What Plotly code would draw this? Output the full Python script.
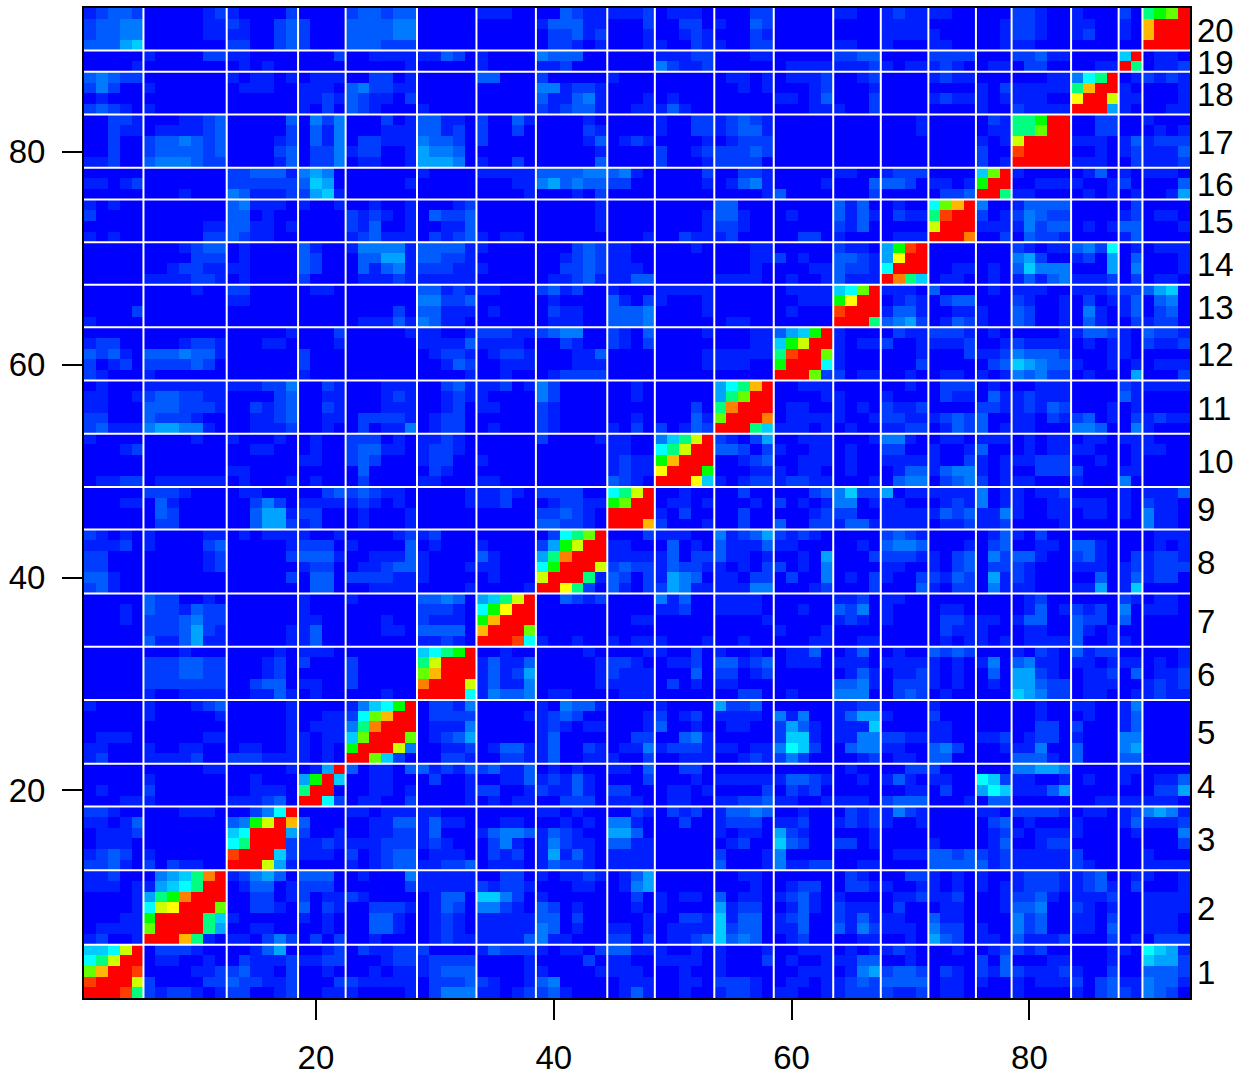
import plotly.graph_objects as go

CLUSTER_SIZES = [5, 7, 6, 4, 6, 5, 5, 6, 4, 5, 5, 5, 4, 4, 4, 3, 5, 4, 2, 4]
CLUSTER_LABELS = [str(i) for i in range(1, 21)]
X_TICKS = [20, 40, 60, 80]
Y_TICKS = [20, 40, 60, 80]
LEVELS = dict(zip("0123456789abcdefg", [0, .03, .06, .09, .12, .16, .20, .25, .375, .5, .6, .7, .75, .82, .875, .94, 1]))

# within-cluster cells, rows ascending
DIAG = [
 ["gggf8", "fgggb", "adggf", "78bgg", "667bg"],
 ["gggd810", "agggg85", "9gggg86", "7bcggga", "589eggg", "15678gg", "04568eg"],
 ["gggb51", "fggg62", "78ggg2", "67ggg5", "349bgd", "00247g"],
 ["gg72", "8gg0", "59g6", "015g"],
 ["gga620", "9gggb4", "6aggga", "48eggg", "27adgg", "14679g"],
 ["gggg7", "egggb", "adggg", "8bggg", "6789g"],
 ["gggf7", "dggga", "9dggg", "79cgg", "568bg"],
 ["ggc820", "bggg81", "79gggb", "58eggg", "259bgg", "0278ag"],
 ["gggd", "gggg", "9agg", "78bg"],
 ["gggc6", "cggg9", "9dggg", "78bgg", "468bg"],
 ["ggg86", "aggge", "8eggg", "58agg", "578dg"],
 ["ggga2", "9ggg7", "8fgga", "69bgg", "3569g"],
 ["ggg8", "fggg", "9cgg", "67ag"],
 ["ge86", "7ggg", "5cgg", "59fg"],
 ["ggge", "bggg", "8fgg", "7adg"],
 ["gg8", "9gg", "6ag"],
 ["ggggg", "fgggg", "bgggg", "88agg", "889gg"],
 ["ggg5", "cggb", "8dgg", "478g"],
 ["g8", "6g"],
 ["gggg", "dggg", "dggg", "89ag"],
]

# cells right of the diagonal: one string per row (ascending), groups are the later clusters
RIGHT_OF_DIAG = [
 # cluster 1
 "2122101 220012 0011 100001 02444 11012 231000 0131 00100 12210 11001 1222 2112 0110 000 10000 1023 21 4320",
 "2000022 322112 0002 211111 02223 21001 340000 0111 00110 22210 01101 1232 3333 0110 100 10111 2023 11 4331",
 "0000112 231102 0010 001011 12333 00001 100001 1110 00100 10000 00111 0145 2332 0210 213 21112 1002 00 3332",
 "0110010 021112 1122 000122 12222 00001 000020 1100 11110 10002 01001 1133 0010 0000 203 00011 0001 00 6552",
 "0222100 001350 0012 021122 20000 13222 101102 3311 10010 10001 00111 0101 1210 0010 012 21200 0001 10 7651",
 # cluster 2
 "110242 0202 001000 01211 11113 411000 2202 01123 63430 01200 0011 0010 532 110 31112 0002 01 0222",
 "001100 0010 003310 01210 11111 430100 1101 01111 62330 11300 3142 1110 422 100 42300 1103 00 1110",
 "100000 1010 003310 01210 11111 330200 0001 00221 61330 12300 2131 1100 311 000 42300 1102 00 1110",
 "002210 3021 002221 01320 44210 320100 0010 10000 51220 01310 2111 0200 011 001 33400 2101 00 1111",
 "002201 2011 210000 01330 66420 100000 0020 10110 30110 12310 1000 0112 112 001 22310 1112 00 1111",
 "013301 2220 000002 11111 21221 000110 0145 00000 00010 01220 0221 1001 101 101 12221 1231 02 0001",
 "124530 3330 010004 11111 00220 101121 0135 00000 00110 00000 0210 0022 101 100 12221 1230 01 1001",
 # cluster 3
 "0000 101233 11223 01110 132210 1111 00000 30001 41122 0011 0000 3333 312 11111 2100 00 1111",
 "1110 201233 01110 02120 151310 1111 00000 20001 40000 0000 0111 3323 212 11111 2000 00 1000",
 "1121 111222 12100 02410 142110 3311 00000 01200 63200 2201 0000 1000 013 00122 0000 00 0002",
 "2001 001122 13000 13443 132100 5530 00000 10110 52100 0001 0000 0000 012 10111 1000 01 0004",
 "3000 001133 13110 00110 001010 4410 00200 12220 11200 1212 1001 0000 023 01000 1000 13 1112",
 "0000 110111 11000 00000 110100 0021 02120 13343 00100 0212 1421 0000 110 22221 0110 12 4541",
 # cluster 4
 "011002 00001 01011 002220 1110 01100 11223 11001 1110 2333 0001 033 00000 0011 11 1110",
 "001101 00001 22001 211310 2200 01101 00002 02120 0000 0011 0200 576 11135 0000 00 0225",
 "001100 02001 00113 121310 0002 00010 11111 13321 0010 1310 1100 762 11001 0100 10 0113",
 "301103 31213 23113 010100 1103 00220 00000 00000 0100 0022 2000 000 44554 0000 11 0000",
 # cluster 5
 "00221 00221 130011 1002 00111 00121 2420 0012 0110 330 00022 3331 30 3351",
 "00112 01331 130021 0114 12221 11011 4762 0344 1100 342 00111 1140 30 4544",
 "01235 00000 130000 0022 00341 00000 2661 1144 2211 110 11200 0122 10 4444",
 "01114 00000 121011 0001 30010 01100 2531 1116 0000 110 00011 0022 20 1334",
 "02222 00001 123200 0001 20120 11110 4140 1355 1000 200 00001 0010 01 1335",
 "02214 00000 104331 0000 10000 52230 0000 1122 0000 100 00000 0010 11 1445",
 # cluster 6
 "14334 011000 0111 00000 00220 01000 4440 0232 0100 000 65422 0110 01 1211",
 "13114 000001 1111 02010 11000 00000 3341 0222 1010 010 55322 0111 00 1212",
 "13125 000001 2111 00030 22012 00000 0131 0112 1010 030 55210 0112 03 0112",
 "13113 000001 2210 01120 33123 01110 1110 1111 1010 140 34110 1101 11 0101",
 "00100 000010 0001 10020 10010 01130 0130 0100 3232 000 10210 3122 00 0001",
 # cluster 7
 "100100 1011 10001 00100 00011 0011 0000 0101 101 01111 3001 10 0000",
 "000000 0000 00000 00000 10001 0000 0000 0211 100 01100 3101 00 0000",
 "000000 0011 00000 00001 00000 1210 1000 0221 110 13300 3220 30 0000",
 "000000 0000 11200 11110 00100 3240 1000 0110 000 01301 2120 40 1110",
 "003212 0000 41300 11110 00000 1120 1100 0000 000 01200 0000 21 0110",
 # cluster 8
 "3102 25411 11144 00012 0002 0003 1022 041 11000 1150 16 0000",
 "3202 15430 11022 02004 0102 1002 2132 051 21000 0030 13 1220",
 "2322 13221 10102 20104 0000 1100 1023 022 21000 1110 12 1222",
 "1111 13022 31101 00105 0002 2221 1023 042 33100 2310 02 1221",
 "1100 03010 31113 11000 0010 3443 0001 023 00110 3310 00 0101",
 "0002 11100 41235 21210 0000 2321 0000 013 10200 0000 00 0111",
 # cluster 9
 "20001 00200 30022 1331 1111 0112 112 00001 0000 00 4110",
 "10200 00200 00012 2200 1111 1323 114 10011 0110 10 4110",
 "01101 00010 20101 4401 1100 0121 401 10011 1110 10 2110",
 "00100 00200 00023 4622 5011 1111 401 10112 0000 10 1113",
 # cluster 10
 "10122 12211 0001 0344 0234 201 11000 1000 40 0000",
 "00011 10110 0100 0133 1344 101 00222 2000 11 0000",
 "00123 00111 0100 1111 1002 101 11222 0010 01 0000",
 "33202 10011 0100 2200 1001 300 01011 1100 01 1100",
 "21025 00111 0001 4410 0110 111 01011 0110 11 1000",
 # cluster 11
 "11101 0100 1122 0132 301 11000 4430 04 1000",
 "01111 1001 2211 1232 300 11021 2301 02 1211",
 "01100 1010 2112 0000 221 12132 0001 01 0000",
 "00001 1000 1000 0211 031 12111 0000 31 0000",
 "00111 0000 0010 0222 010 00111 0000 21 1111",
 # cluster 12
 "2011 0010 0110 101 43422 0100 05 0002",
 "1000 0002 0000 023 65433 1001 01 0111",
 "1000 0001 0002 112 43332 0001 10 0000",
 "1011 2001 1112 001 21111 0101 10 2112",
 "1000 0211 2221 010 00001 1332 10 3221",
 # cluster 13
 "3452 0132 100 32001 0310 02 1220",
 "1331 0011 100 32001 0410 13 0230",
 "0121 0233 000 21001 0201 13 0340",
 "1110 3000 010 11100 1112 22 3560",
 # cluster 14
 "0110 010 13134 1112 02 0110",
 "0011 010 36444 0005 04 0001",
 "0000 000 45200 1205 03 0001",
 "0000 000 21011 3427 01 0111",
 # cluster 15
 "002 03221 0000 13 0000",
 "111 14233 0101 33 0001",
 "201 24322 0000 12 0110",
 "400 13333 0000 02 0000",
 # cluster 16
 "11000 0101 01 0015",
 "00111 1001 20 0003",
 "10000 0130 10 1110",
 # cluster 17
 "1110 02 1112",
 "0010 12 1113",
 "1110 13 1222",
 "0022 00 0101",
 "0022 00 1000",
 # cluster 18
 "10 0011",
 "11 0001",
 "10 0001",
 "01 2121",
 # cluster 19
 "0112",
 "0110",
]

# cells left of the diagonal: one string per row (rows 6..93), groups are the earlier clusters
LEFT_OF_DIAG = [
 "12001", "01111", "00011", "00001", "00001", "11101", "11200",
 "22310 2021100", "12320 1000000", "01110 0000000", "01112 0000000", "11013 0000000", "22100 0001110",
 "00011 1000000 111230", "01000 2000000 001110", "00000 1000000 001000", "00000 0000011 000001",
 "12000 1111200 222111 1010", "11000 1001100 011001 1010", "01110 0000011 000001 1011",
 "00000 0000000 000001 0111", "00000 1000001 000001 0011", "10000 1000123 000001 0000",
 "00000 1001111 001131 0100 000100", "00000 2222222 002330 1100 200000",
 "00000 2223322 000120 0000 200000", "00000 2223322 000120 2000 200000",
 "00000 0001000 000010 1110 000000",
 "00000 3113511 000001 1300 000000 11210", "00000 2223521 000001 1300 000110 33330",
 "00010 2223422 000000 1100 000100 21110", "00010 3221322 000000 1000 000000 22210",
 "00000 3220010 000000 1000 100000 33430",
 "23100 0000000 000000 0330 001111 00001 00001",
 "33100 0000000 000002 0330 222211 10000 01000",
 "22000 0000012 000000 1220 011233 10001 11000",
 "22000 0000012 000002 3331 001113 10000 31000",
 "11120 1000023 000001 2220 100003 01000 10000",
 "21010 1000011 010111 1001 000012 12000 00000",
 "00000 0220000 003552 1200 010001 00000 00000 332210",
 "00000 0320000 003551 2200 010001 00000 00000 223210",
 "00011 0310000 002420 1111 121010 00001 11200 012211",
 "00000 2221000 011000 0023 232110 00001 11210 222200",
 "01122 0111111 010001 0100 020000 11000 11000 000000 3210",
 "00000 0000000 110000 0000 030000 02100 00000 000000 1211",
 "00000 0000000 000000 1100 232000 12200 10000 000000 1211",
 "00012 0000000 001100 0100 233110 12210 00000 000000 1100",
 "10000 0000100 100010 0100 222010 11210 00000 200001 1100",
 "23111 4554410 001112 0010 020114 01220 01000 210000 1020 20132",
 "22000 3222100 001123 0011 022221 01220 00000 210000 0010 00031",
 "11000 3332221 002123 0021 000111 00120 11000 210000 0000 00020",
 "11001 2332211 000023 0011 000121 00121 10000 420000 0010 00000",
 "01000 1111111 111224 0021 000111 00231 11201 420000 0010 00000",
 "21000 1000000 000000 1000 000000 00001 00100 012222 0000 00000 00000",
 "20120 2222320 000000 2000 000000 00132 00111 000111 0000 00001 11100",
 "32310 3334331 000000 2000 000000 01221 01221 000113 0000 00001 11111",
 "12200 0001221 000110 0001 000000 11113 11110 002100 2102 00000 00011",
 "00000 0000000 000001 0002 000001 11001 22211 234400 2103 00001 00011",
 "10000 0000000 000000 0000 011131 43110 00000 011100 3334 00000 01100 00000",
 "00002 0000000 000000 0000 000020 33111 01000 021100 3334 00001 00000 01000",
 "00000 0000000 110000 0000 000000 44223 00000 010000 3102 10001 00000 00111",
 "00000 0000100 220000 0110 000000 33121 11000 231200 1000 11111 00000 01111",
 "00000 1111221 010000 2000 011121 11111 00000 011231 1133 00000 11110 01001 3111",
 "00000 0012211 110000 3200 031341 22211 10000 002232 1110 00000 00010 00011 3221",
 "00000 0000222 010000 3200 033551 33221 00000 001232 1100 00000 00011 20100 3321",
 "00000 0001233 010000 3100 144441 33331 10000 000232 1100 00010 00011 00000 2110",
 "10100 0000022 321100 0000 123111 02123 10110 000000 0001 00211 12000 00220 1000 0111",
 "00000 0000011 331101 0000 213001 00113 00000 000001 0000 00001 22100 00000 2130 0000",
 "20000 0000000 330100 0000 212101 03223 00000 000001 0000 00001 33100 01000 3131 0211",
 "10100 0000000 341110 1001 001001 00012 00000 000001 0000 00000 33000 00000 3130 0100",
 "00000 0001000 431112 2561 000000 00000 00001 000102 0000 00000 00001 30000 0002 0000 0223",
 "11012 0000000 222222 3650 000001 00000 00011 453433 2200 00001 01341 00001 0003 3320 1101",
 "00000 0000000 223331 4540 000000 10000 11111 333344 3410 00002 00221 00000 1100 1222 0000",
 "11200 3444322 000013 0224 011001 55540 10020 000003 0000 20001 22220 00000 0000 0000 0000 201",
 "00200 2333323 000023 0224 122001 54430 00000 000001 0000 20012 22232 00000 0000 0000 0000 200",
 "00200 2334323 000012 0314 022111 43320 20000 000013 0121 00001 01222 00000 0000 0000 0000 101",
 "00211 0111123 000002 0314 000111 33120 20020 000021 0000 10022 12331 00000 0000 0001 0000 011",
 "00221 0001123 000003 0424 000201 33110 20031 000010 0000 10022 12321 00000 0000 0001 0000 021",
 "23210 1000000 000000 1020 321000 10000 00000 212331 0011 13100 00000 00011 1002 0000 0000 100 21111",
 "01000 0000000 000000 1121 321102 00000 00000 311341 0001 01000 00000 11013 0002 0000 1211 101 11100",
 "24200 1000000 011100 1110 342211 00000 00000 441221 0000 00000 00101 00012 0001 0000 0000 102 11111",
 "34322 0000000 101101 0111 002201 00000 33000 200000 1000 00000 01101 01112 0012 0000 1211 000 00011",
 "00001 0000000 010100 0000 000001 00000 10000 112000 0000 42112 00000 01111 1112 1011 1210 011 02200 0011",
 "00000 1000022 110000 0002 001111 11320 10000 433300 0000 11122 00011 00000 2233 0000 2222 000 22311 0000",
 "33356 0000000 220023 2000 333222 00000 00000 022101 0001 10021 10022 00000 1100 1000 1100 001 11000 0000 00",
 "23344 0000011 110023 2000 333344 00000 00000 022312 0001 00121 00021 00000 0000 1111 1000 001 22100 1200 10",
 "23344 0000011 210023 2000 333344 00000 00000 133311 0002 00220 10032 00000 0000 1111 0000 001 22100 1100 10",
 "12332 0000012 100002 0000 233233 00000 11100 003211 1112 01110 00022 00000 1100 1211 1100 000 22100 1000 20",
]

N = sum(CLUSTER_SIZES)
starts = [sum(CLUSTER_SIZES[:i]) for i in range(len(CLUSTER_SIZES))]
row_cluster = [ci for ci, n in enumerate(CLUSTER_SIZES) for _ in range(n)]
z = [[0.0] * N for _ in range(N)]

for ci, (s, n) in enumerate(zip(starts, CLUSTER_SIZES)):
    for r, row in enumerate(DIAG[ci]):
        for c, ch in enumerate(row[:n]):
            z[s + r][s + c] = LEVELS[ch]

for i, text in enumerate(RIGHT_OF_DIAG):
    ci = row_cluster[i]
    for g, group in enumerate(text.split()):
        cj = ci + 1 + g
        for c, ch in enumerate(group[:CLUSTER_SIZES[cj]]):
            z[i][starts[cj] + c] = LEVELS[ch]

for k, text in enumerate(LEFT_OF_DIAG):
    i = CLUSTER_SIZES[0] + k
    for cj, group in enumerate(text.split()):
        for c, ch in enumerate(group[:CLUSTER_SIZES[cj]]):
            z[i][starts[cj] + c] = LEVELS[ch]

idx = list(range(1, N + 1))
colorscale = [[0, "#0000ff"], [.25, "#00ffff"], [.5, "#00ff00"], [.75, "#ffff00"], [1, "#ff0000"]]
FS = 33
FONT = "Liberation Sans, Arial, sans-serif"

fig = go.Figure(go.Heatmap(x=idx, y=idx, z=z, zmin=0, zmax=1, colorscale=colorscale,
                           showscale=False, hoverinfo="skip", xgap=0, ygap=0))

bounds = [s + 0.5 for s in starts[1:]]
shapes = []
for b in bounds:
    shapes.append(dict(type="line", xref="x", yref="paper", x0=b, x1=b, y0=0, y1=1,
                       line=dict(color="white", width=2)))
    shapes.append(dict(type="line", xref="paper", yref="y", x0=0, x1=1, y0=b, y1=b,
                       line=dict(color="white", width=2)))

annotations = []
for lab, s, n in zip(CLUSTER_LABELS, starts, CLUSTER_SIZES):
    annotations.append(dict(text=lab, xref="paper", yref="y", x=1, y=s + (n + 1) / 2,
                            xanchor="left", yanchor="middle", xshift=5, yshift=-1, showarrow=False,
                            font=dict(family=FONT, size=FS, color="black")))

axis = dict(showgrid=False, zeroline=False, showline=True, linecolor="black", linewidth=2,
            mirror=True, ticks="outside", ticklen=20, tickwidth=2, tickcolor="black", automargin=False,
            tickfont=dict(family=FONT, size=FS, color="black"), range=[0.5, N + 0.5])
fig.update_layout(
    width=1237, height=1071,
    margin=dict(l=84, r=47, t=8, b=73, pad=0),
    paper_bgcolor="white", plot_bgcolor="white",
    shapes=shapes, annotations=annotations,
    xaxis=dict(axis, tickvals=X_TICKS, ticklabelstandoff=9),
    yaxis=dict(axis, tickvals=Y_TICKS, ticklabelstandoff=10),
)
fig.write_html("out.html", post_script="document.body.style.margin='0';",
               config={"displayModeBar": False})
